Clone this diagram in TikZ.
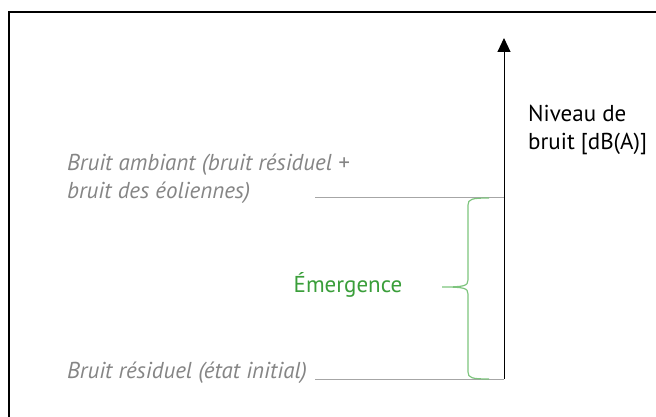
\documentclass[tikz,border=0pt]{standalone}
\usepackage{fontspec}
\setmainfont{PT Sans}
\usetikzlibrary{arrows.meta}
\definecolor{labelgray}{HTML}{858585}
\definecolor{levelgray}{HTML}{A6A6A6}
\definecolor{emgreen}{HTML}{3A9E3A}
\definecolor{bracegreen}{HTML}{7DC47D}
\tikzset{
  graylabel/.style={anchor=west, align=left, text=labelgray, font=\fontsize{23}{28}\selectfont\itshape, inner sep=0pt},
  axislabel/.style={anchor=west, align=left, text=black, font=\fontsize{23}{28}\selectfont, inner sep=0pt},
  levelline/.style={draw=levelgray, line width=1pt},
  axisline/.style={draw=black, line width=1pt, -{Triangle[width=13pt,length=14pt]}},
  bracestyle/.style={draw=bracegreen, line width=1.2pt},
  frame/.style={draw=black, line width=2pt}
}
\begin{document}
\begin{tikzpicture}[x=1pt, y=-1pt]
  \useasboundingbox (0,0) rectangle (656,417);
  \clip (0,0) rectangle (656,417);
  % outer frame
  \draw[frame] (9,12) rectangle (700,470);

  % sound level axis
  \coordinate (axisbot) at (504,379);
  \coordinate (axistop) at (504,38);
  \draw[axisline] (axisbot) -- (axistop);

  % level markers
  \coordinate (ambL) at (315,197.5);
  \coordinate (ambR) at (504,197.5);
  \coordinate (resL) at (315,379);
  \coordinate (resR) at (504,379);
  \draw[levelline] (ambL) -- (ambR);
  \draw[levelline] (resL) -- (resR);

  % labels
  \node[graylabel] (ambiant) at (67,179) {Bruit ambiant (bruit résiduel +\\bruit des éoliennes)};
  \node[graylabel] (residuel) at (67,373) {Bruit résiduel (état initial)};
  \node[axislabel] (niveau) at (528,130) {Niveau de\\bruit [dB(A)]};
  \node[anchor=center, text=emgreen, font=\fontsize{23}{28}\selectfont, inner sep=0pt] (emergence) at (348,285) {Émergence};

  % brace spanning the emergence
  \coordinate (braceTop) at (489,198);
  \coordinate (braceMid) at (442,287);
  \coordinate (braceBot) at (489,379);
  \draw[bracestyle] (braceTop) .. controls (472,198) and (468,199) .. (468,205)
    -- (468,280) .. controls (468,286) and (464,287) .. (braceMid)
    .. controls (464,287) and (468,288) .. (468,294)
    -- (468,372) .. controls (468,378) and (472,379) .. (braceBot);
\end{tikzpicture}
\end{document}
